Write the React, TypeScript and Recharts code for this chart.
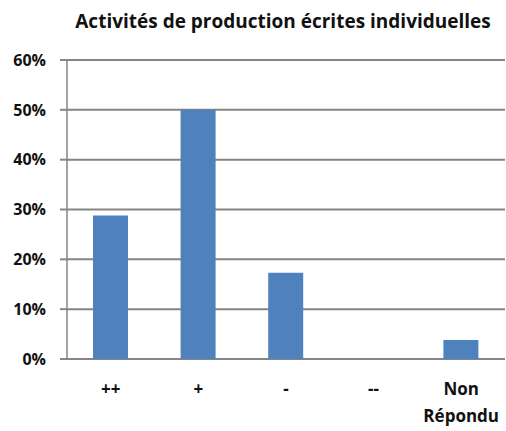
import { BarChart, Bar, XAxis, YAxis, CartesianGrid } from 'recharts';

const categories = ['++', '+', '-', '--', 'Non Répondu'];
const shares = [0.288, 0.5, 0.173, 0, 0.038];
const yTicks = [0, 0.1, 0.2, 0.3, 0.4, 0.5, 0.6];
const edgeTicks = [0, 1, 2, 3, 4, 5];

const title = 'Activités de production écrites individuelles';

const data = categories.map((name, i) => ({ name, value: shares[i] }));

const font = '"Open Sans", Lato, sans-serif';
const grey = '#858585';

function CategoryTick({ x, y, payload }: any) {
  const lines = String(payload.value).split(' ');
  return (
    <text x={x} y={y} textAnchor="middle" fontFamily={font} fontWeight={700} fontSize={17} fill="#111">
      {lines.map((l, i) => (
        <tspan key={i} x={x} dy={i === 0 ? 36 : 27}>{l}</tspan>
      ))}
    </text>
  );
}

export default function App() {
  return (
    <div style={{ position: 'absolute', left: 0, top: 0, width: 506, height: 431, background: '#fff' }}>
      <div
        style={{
          position: 'absolute', left: 0, width: 566, top: 8, textAlign: 'center',
          fontFamily: font, fontWeight: 700, fontSize: 19, color: '#111',
        }}
      >
        {title}
      </div>
      <BarChart
        width={506}
        height={431}
        data={data}
        margin={{ top: 60, right: 1, bottom: 0, left: 0 }}
      >
        <CartesianGrid vertical={false} stroke={grey} strokeWidth={2} />
        <XAxis
          xAxisId="edges"
          type="number"
          dataKey="none"
          domain={[0, 5]}
          ticks={edgeTicks}
          tick={false}
          height={0}
          tickSize={8}
          axisLine={false}
          tickLine={{ stroke: grey, strokeWidth: 1.5 }}
        />
        <XAxis
          dataKey="name"
          height={72}
          axisLine={false}
          tickLine={false}
          tickSize={0}
          tickMargin={0}
          interval={0}
          tick={<CategoryTick />}
        />
        <YAxis
          width={67}
          domain={[0, 0.6]}
          ticks={yTicks}
          tickFormatter={(v: number) => `${Math.round(v * 100)}%`}
          tickSize={7}
          tickMargin={14}
          axisLine={{ stroke: grey, strokeWidth: 1.5 }}
          tickLine={{ stroke: grey, strokeWidth: 2 }}
          tick={{ fontFamily: font, fontWeight: 700, fontSize: 16, fill: '#111' }}
        />
        <Bar dataKey="value" fill="#4F81BD" barSize={35} isAnimationActive={false} />
      </BarChart>
    </div>
  );
}
